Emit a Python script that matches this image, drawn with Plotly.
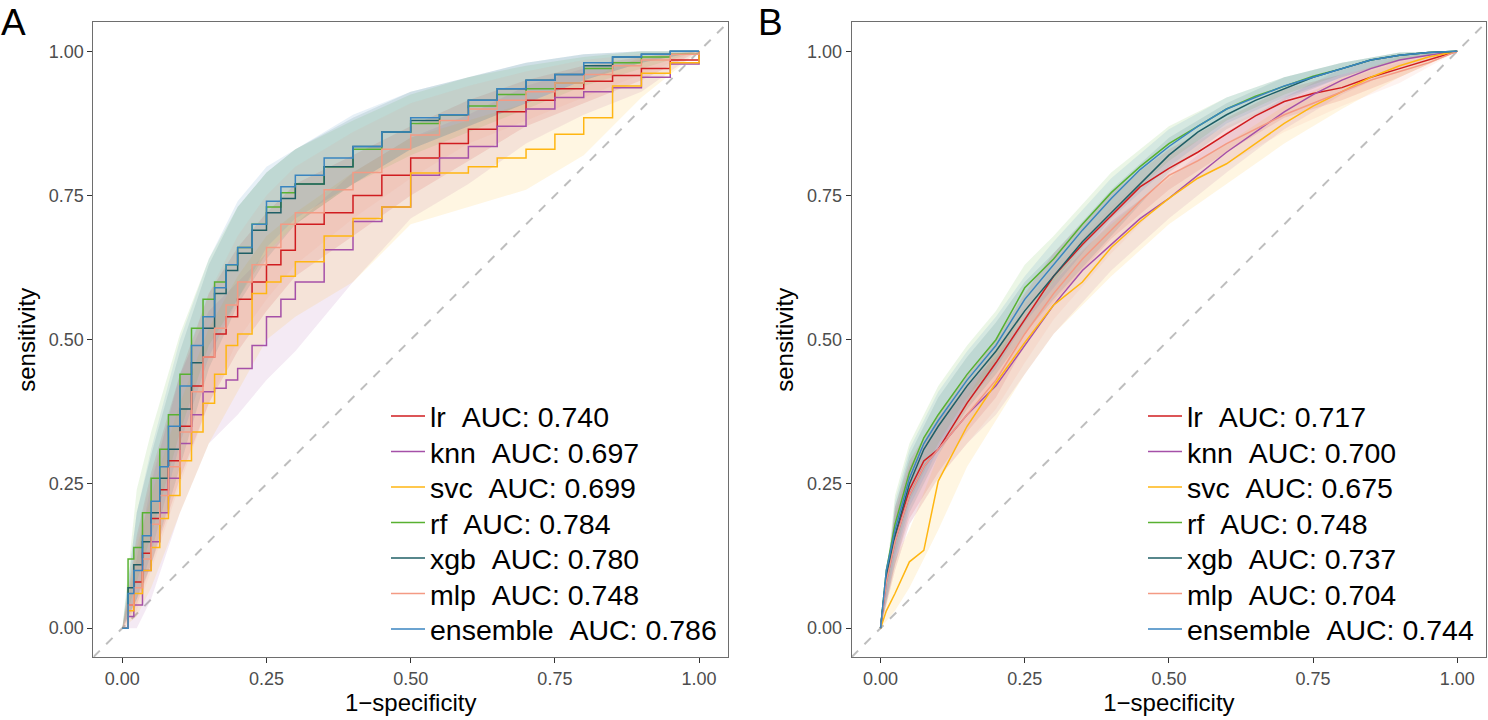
import plotly.graph_objects as go

# ---------------- data ----------------
models = ["lr", "knn", "svc", "rf", "xgb", "mlp", "ensemble"]
colors = ["#D01C1F", "#A550A8", "#FFB612", "#58B131", "#1F5F66", "#F49A84", "#3A85C0"]
auc_a = ["0.740", "0.697", "0.699", "0.784", "0.780", "0.748", "0.786"]
auc_b = ["0.717", "0.700", "0.675", "0.748", "0.737", "0.704", "0.744"]

tick_vals = [0, 0.25, 0.5, 0.75, 1.0]
tick_text = ["0.00", "0.25", "0.50", "0.75", "1.00"]

# Panel A: ROC curves (1-specificity grid, sensitivity)
fpr_a = [0, 0.01, 0.02, 0.035, 0.05, 0.065, 0.08, 0.1, 0.12, 0.14, 0.16, 0.18, 0.2, 0.225, 0.25,
         0.275, 0.3, 0.35, 0.4, 0.45, 0.5, 0.55, 0.6, 0.65, 0.7, 0.75, 0.8, 0.85, 0.9, 0.95, 1.0]
tpr_a_lr = [0, 0.04, 0.08, 0.13, 0.19, 0.24, 0.29, 0.35, 0.42, 0.47, 0.51, 0.54, 0.57, 0.6, 0.63,
            0.655, 0.70, 0.72, 0.75, 0.785, 0.815, 0.84, 0.865, 0.895, 0.915, 0.935, 0.948, 0.958, 0.97, 0.985, 1]
tpr_a_knn = [0, 0.02, 0.04, 0.1, 0.15, 0.2, 0.26, 0.32, 0.37, 0.41, 0.416, 0.43, 0.45, 0.49, 0.54,
             0.57, 0.6, 0.656, 0.705, 0.73, 0.785, 0.815, 0.835, 0.87, 0.9, 0.92, 0.93, 0.937, 0.955, 0.978, 1]
tpr_a_svc = [0, 0.03, 0.06, 0.1, 0.14, 0.19, 0.23, 0.29, 0.34, 0.39, 0.44, 0.49, 0.51, 0.58, 0.6,
             0.61, 0.635, 0.68, 0.71, 0.73, 0.789, 0.789, 0.8, 0.815, 0.83, 0.856, 0.885, 0.94, 0.962, 0.98, 1]
tpr_a_rf = [0, 0.12, 0.14, 0.2, 0.26, 0.31, 0.37, 0.44, 0.52, 0.57, 0.6, 0.63, 0.66, 0.7, 0.73,
            0.755, 0.77, 0.8, 0.83, 0.86, 0.875, 0.89, 0.905, 0.925, 0.935, 0.945, 0.97, 0.98, 0.99, 0.995, 1]
tpr_a_xgb = [0, 0.07, 0.11, 0.15, 0.2, 0.26, 0.31, 0.38, 0.46, 0.52, 0.58, 0.62, 0.65, 0.69, 0.72,
             0.745, 0.77, 0.8, 0.835, 0.86, 0.88, 0.89, 0.915, 0.935, 0.95, 0.96, 0.975, 0.99, 0.995, 1, 1]
tpr_a_mlp = [0, 0.04, 0.07, 0.12, 0.18, 0.23, 0.28, 0.34, 0.41, 0.47, 0.52, 0.56, 0.6, 0.63, 0.66,
             0.7, 0.72, 0.76, 0.79, 0.83, 0.855, 0.88, 0.9, 0.915, 0.93, 0.945, 0.96, 0.975, 0.985, 0.995, 1]
tpr_a_ens = [0, 0.06, 0.1, 0.16, 0.22, 0.28, 0.35, 0.42, 0.49, 0.54, 0.59, 0.63, 0.66, 0.70, 0.74,
             0.765, 0.785, 0.815, 0.835, 0.86, 0.885, 0.89, 0.915, 0.935, 0.95, 0.96, 0.98, 0.99, 0.995, 1, 1]

# Panel A: confidence bands
band_fpr_a = [0, 0.025, 0.05, 0.1, 0.15, 0.2, 0.25, 0.3, 0.4, 0.5, 0.6, 0.7, 0.8, 0.9, 1.0]
lo_a_lr = [0, 0.04, 0.11, 0.26, 0.39, 0.48, 0.55, 0.61, 0.68, 0.75, 0.81, 0.87, 0.91, 0.95, 1]
hi_a_lr = [0, 0.16, 0.27, 0.44, 0.58, 0.66, 0.72, 0.77, 0.82, 0.87, 0.915, 0.95, 0.975, 0.99, 1]
lo_a_knn = [0, 0.0, 0.05, 0.2, 0.32, 0.37, 0.43, 0.48, 0.6, 0.71, 0.77, 0.84, 0.89, 0.93, 1]
hi_a_knn = [0, 0.12, 0.25, 0.44, 0.55, 0.6, 0.65, 0.7, 0.79, 0.85, 0.89, 0.94, 0.97, 0.985, 1]
lo_a_svc = [0, 0.02, 0.07, 0.2, 0.32, 0.41, 0.5, 0.54, 0.6, 0.7, 0.73, 0.76, 0.82, 0.92, 1]
hi_a_svc = [0, 0.14, 0.23, 0.39, 0.52, 0.61, 0.68, 0.72, 0.79, 0.85, 0.88, 0.91, 0.95, 0.99, 1]
lo_a_rf = [0, 0.08, 0.16, 0.34, 0.49, 0.57, 0.65, 0.7, 0.77, 0.82, 0.86, 0.9, 0.94, 0.97, 1]
hi_a_rf = [0, 0.24, 0.34, 0.51, 0.64, 0.73, 0.79, 0.83, 0.88, 0.925, 0.955, 0.975, 0.99, 1, 1]
lo_a_xgb = [0, 0.05, 0.11, 0.28, 0.45, 0.56, 0.64, 0.7, 0.77, 0.83, 0.87, 0.91, 0.95, 0.98, 1]
hi_a_xgb = [0, 0.2, 0.3, 0.48, 0.63, 0.73, 0.79, 0.83, 0.885, 0.93, 0.955, 0.98, 0.995, 1, 1]
lo_a_mlp = [0, 0.03, 0.1, 0.25, 0.39, 0.5, 0.57, 0.63, 0.71, 0.78, 0.84, 0.88, 0.92, 0.96, 1]
hi_a_mlp = [0, 0.15, 0.26, 0.43, 0.58, 0.68, 0.75, 0.8, 0.86, 0.91, 0.94, 0.965, 0.985, 0.995, 1]
lo_a_ens = [0, 0.05, 0.13, 0.32, 0.47, 0.57, 0.66, 0.71, 0.77, 0.83, 0.87, 0.91, 0.95, 0.98, 1]
hi_a_ens = [0, 0.2, 0.31, 0.5, 0.64, 0.74, 0.8, 0.83, 0.89, 0.93, 0.955, 0.98, 0.995, 1, 1]

# Panel B: ROC curves
fpr_b = [0, 0.01, 0.025, 0.05, 0.075, 0.1, 0.15, 0.2, 0.25, 0.3, 0.35, 0.4, 0.45, 0.5, 0.55, 0.6,
         0.65, 0.7, 0.75, 0.8, 0.85, 0.9, 0.95, 1.0]
tpr_b_lr = [0, 0.09, 0.16, 0.24, 0.29, 0.31, 0.39, 0.46, 0.535, 0.61, 0.665, 0.715, 0.765, 0.797, 0.825, 0.857,
            0.888, 0.913, 0.927, 0.937, 0.955, 0.97, 0.985, 1]
tpr_b_knn = [0, 0.08, 0.15, 0.23, 0.28, 0.31, 0.37, 0.42, 0.49, 0.56, 0.62, 0.665, 0.71, 0.745, 0.785, 0.825,
             0.86, 0.895, 0.925, 0.95, 0.97, 0.985, 0.993, 1]
tpr_b_svc = [0, 0.03, 0.06, 0.115, 0.135, 0.255, 0.35, 0.425, 0.495, 0.56, 0.60, 0.66, 0.705, 0.745, 0.78, 0.805,
             0.84, 0.875, 0.905, 0.93, 0.955, 0.975, 0.99, 1]
tpr_b_rf = [0, 0.10, 0.18, 0.27, 0.33, 0.37, 0.44, 0.50, 0.59, 0.64, 0.70, 0.755, 0.80, 0.84, 0.87, 0.90,
            0.922, 0.94, 0.957, 0.97, 0.985, 0.993, 0.998, 1]
tpr_b_xgb = [0, 0.09, 0.16, 0.25, 0.31, 0.35, 0.42, 0.48, 0.55, 0.61, 0.67, 0.72, 0.77, 0.82, 0.86, 0.89,
             0.915, 0.935, 0.955, 0.97, 0.985, 0.993, 0.998, 1]
tpr_b_mlp = [0, 0.08, 0.15, 0.23, 0.28, 0.31, 0.37, 0.43, 0.51, 0.58, 0.64, 0.69, 0.74, 0.785, 0.81, 0.84,
             0.865, 0.89, 0.91, 0.93, 0.95, 0.965, 0.98, 1]
tpr_b_ens = [0, 0.10, 0.17, 0.26, 0.32, 0.36, 0.43, 0.49, 0.57, 0.63, 0.69, 0.745, 0.795, 0.835, 0.87, 0.90,
             0.92, 0.94, 0.955, 0.97, 0.985, 0.993, 0.998, 1]

# Panel B: confidence bands
band_fpr_b = [0, 0.025, 0.05, 0.1, 0.15, 0.2, 0.25, 0.3, 0.4, 0.5, 0.6, 0.7, 0.8, 0.9, 1.0]
lo_b_lr = [0, 0.11, 0.19, 0.27, 0.34, 0.4, 0.49, 0.565, 0.675, 0.76, 0.825, 0.885, 0.915, 0.955, 1]
hi_b_lr = [0, 0.21, 0.29, 0.37, 0.44, 0.5, 0.58, 0.65, 0.755, 0.83, 0.885, 0.935, 0.96, 0.985, 1]
lo_b_knn = [0, 0.1, 0.18, 0.26, 0.32, 0.37, 0.44, 0.51, 0.62, 0.71, 0.79, 0.865, 0.925, 0.97, 1]
hi_b_knn = [0, 0.2, 0.28, 0.36, 0.42, 0.47, 0.54, 0.6, 0.705, 0.78, 0.86, 0.92, 0.97, 0.995, 1]
lo_b_svc = [0, 0.03, 0.07, 0.17, 0.28, 0.36, 0.44, 0.51, 0.61, 0.7, 0.77, 0.84, 0.9, 0.955, 1]
hi_b_svc = [0, 0.12, 0.17, 0.3, 0.4, 0.48, 0.55, 0.61, 0.7, 0.785, 0.84, 0.905, 0.955, 0.99, 1]
lo_b_rf = [0, 0.13, 0.22, 0.32, 0.4, 0.46, 0.55, 0.6, 0.72, 0.81, 0.88, 0.925, 0.96, 0.985, 1]
hi_b_rf = [0, 0.23, 0.32, 0.42, 0.49, 0.55, 0.63, 0.68, 0.79, 0.87, 0.92, 0.955, 0.98, 0.998, 1]
lo_b_xgb = [0, 0.11, 0.2, 0.3, 0.38, 0.44, 0.51, 0.57, 0.68, 0.79, 0.865, 0.915, 0.955, 0.985, 1]
hi_b_xgb = [0, 0.21, 0.3, 0.4, 0.47, 0.53, 0.6, 0.65, 0.76, 0.85, 0.91, 0.955, 0.98, 0.998, 1]
lo_b_mlp = [0, 0.1, 0.18, 0.26, 0.32, 0.38, 0.46, 0.535, 0.65, 0.75, 0.805, 0.86, 0.905, 0.945, 1]
hi_b_mlp = [0, 0.2, 0.28, 0.36, 0.42, 0.48, 0.56, 0.625, 0.73, 0.82, 0.87, 0.915, 0.95, 0.98, 1]
lo_b_ens = [0, 0.12, 0.21, 0.31, 0.39, 0.45, 0.53, 0.59, 0.71, 0.8, 0.875, 0.92, 0.955, 0.985, 1]
hi_b_ens = [0, 0.22, 0.31, 0.41, 0.48, 0.54, 0.61, 0.67, 0.78, 0.865, 0.92, 0.955, 0.98, 0.998, 1]

curves_a = [tpr_a_lr, tpr_a_knn, tpr_a_svc, tpr_a_rf, tpr_a_xgb, tpr_a_mlp, tpr_a_ens]
lows_a = [lo_a_lr, lo_a_knn, lo_a_svc, lo_a_rf, lo_a_xgb, lo_a_mlp, lo_a_ens]
highs_a = [hi_a_lr, hi_a_knn, hi_a_svc, hi_a_rf, hi_a_xgb, hi_a_mlp, hi_a_ens]
curves_b = [tpr_b_lr, tpr_b_knn, tpr_b_svc, tpr_b_rf, tpr_b_xgb, tpr_b_mlp, tpr_b_ens]
lows_b = [lo_b_lr, lo_b_knn, lo_b_svc, lo_b_rf, lo_b_xgb, lo_b_mlp, lo_b_ens]
highs_b = [hi_b_lr, hi_b_knn, hi_b_svc, hi_b_rf, hi_b_xgb, hi_b_mlp, hi_b_ens]

# ---------------- figure ----------------
FONT = "Liberation Sans, Arial, Helvetica, sans-serif"
W, H = 1488, 720


def rgba(hex_color, a):
    h = hex_color.lstrip("#")
    r, g, b = int(h[0:2], 16), int(h[2:4], 16), int(h[4:6], 16)
    return f"rgba({r},{g},{b},{a})"


fig = go.Figure()
legend_layout = {}

panels = [
    ("x", "y", 0, fpr_a, curves_a, band_fpr_a, lows_a, highs_a, auc_a, "hv", 386),
    ("x2", "y2", 1, fpr_b, curves_b, band_fpr_b, lows_b, highs_b, auc_b, "linear", 1143),
]

for xa, ya, pidx, fx, curves, bfx, lows, highs, aucs, shape, leg_x in panels:
    # diagonal reference line
    fig.add_trace(go.Scatter(x=[-0.05, 1.05], y=[-0.05, 1.05], mode="lines", xaxis=xa, yaxis=ya,
                             line=dict(color="#BEBEBE", width=2, dash="dash"),
                             showlegend=False, hoverinfo="skip"))
    # bands
    for m, c, lo, hi in zip(models, colors, lows, highs):
        fig.add_trace(go.Scatter(x=list(bfx) + list(bfx)[::-1], y=list(hi) + list(lo)[::-1],
                                 fill="toself", fillcolor=rgba(c, 0.12), line=dict(width=0),
                                 mode="lines", xaxis=xa, yaxis=ya, showlegend=False, hoverinfo="skip"))
    # curves, each with its own one-row legend
    for i, (m, c, t, a) in enumerate(zip(models, colors, curves, aucs)):
        n = pidx * 7 + i + 1
        key = "legend" if n == 1 else f"legend{n}"
        fig.add_trace(go.Scatter(x=fx, y=t, mode="lines", xaxis=xa, yaxis=ya,
                                 line=dict(color=c, width=1.5, shape=shape),
                                 name=f"{m}\u00a0\u00a0AUC: {a}", legend=key))
        yc = 416.5 + 35.5 * i
        legend_layout[key] = dict(x=leg_x / W, y=1 - yc / H, xanchor="left", yanchor="middle",
                                  bgcolor="rgba(0,0,0,0)", itemwidth=34,
                                  font=dict(family=FONT, size=28.5, color="black"))

axis_common = dict(range=[-0.05, 1.05], tickvals=tick_vals, ticktext=tick_text,
                   showgrid=False, zeroline=False, showline=True, mirror=True,
                   linecolor="#6E6E6E", linewidth=1.3, ticks="outside", ticklen=5,
                   tickcolor="#333333", tickwidth=1.3,
                   tickfont=dict(family=FONT, size=18, color="#4D4D4D"))

fig.update_layout(
    width=W, height=H,
    margin=dict(l=0, r=0, t=0, b=0),
    paper_bgcolor="white", plot_bgcolor="white",
    font=dict(family=FONT),
    xaxis=dict(domain=[0.0628, 0.4892], anchor="y",
               title=dict(text="1\u2212specificity", font=dict(size=24, color="black"), standoff=6),
               **axis_common),
    yaxis=dict(domain=[0.0875, 0.9688], anchor="x",
               title=dict(text="sensitivity", font=dict(size=24, color="black"), standoff=6),
               **axis_common),
    xaxis2=dict(domain=[0.5724, 0.9987], anchor="y2",
                title=dict(text="1\u2212specificity", font=dict(size=24, color="black"), standoff=6),
                **axis_common),
    yaxis2=dict(domain=[0.0875, 0.9688], anchor="x2",
                title=dict(text="sensitivity", font=dict(size=24, color="black"), standoff=6),
                **axis_common),
    annotations=[
        dict(text="A", x=-1.5 / W, y=1.0, xref="paper", yref="paper", xanchor="left", yanchor="top",
             showarrow=False, font=dict(family=FONT, size=37, color="black")),
        dict(text="B", x=756 / W, y=1.0, xref="paper", yref="paper", xanchor="left", yanchor="top",
             showarrow=False, font=dict(family=FONT, size=37, color="black")),
    ],
    **legend_layout,
)

fig.write_html("out.html", config={"displayModeBar": False},
               post_script="document.body.style.margin='0';")
